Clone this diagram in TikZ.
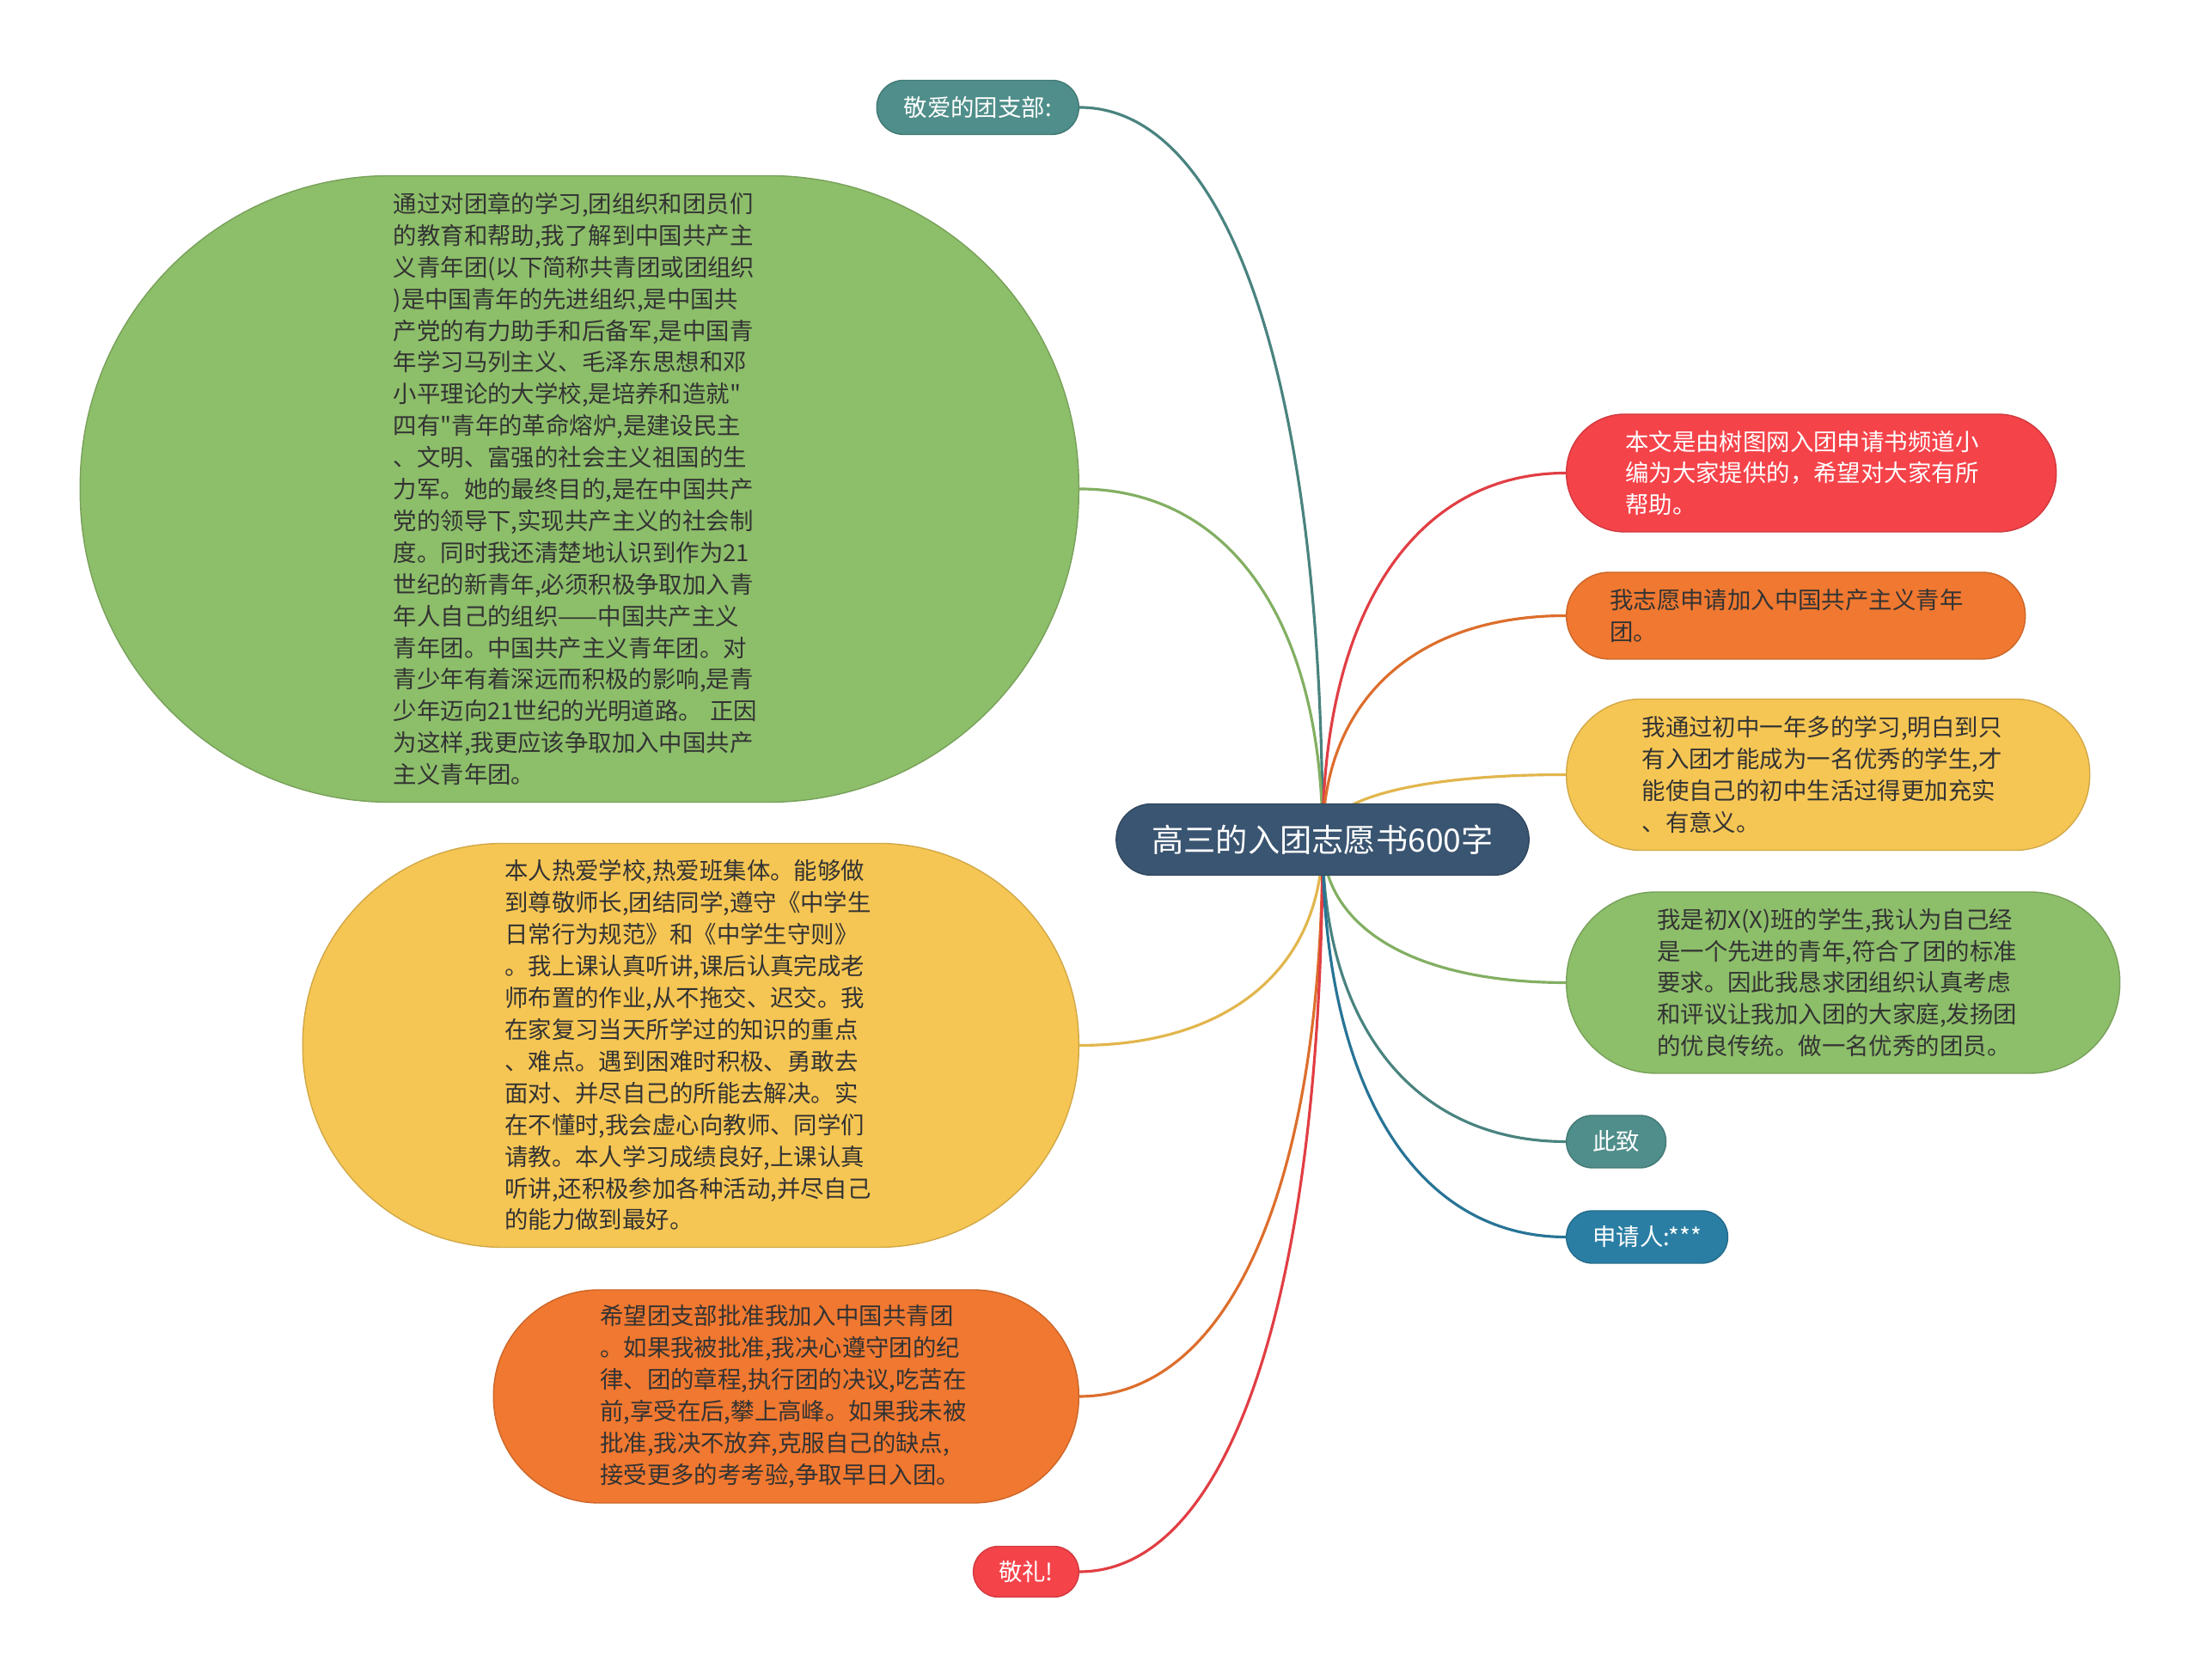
\documentclass[tikz,border=0pt]{standalone}
\usepackage{fontspec}
\setmainfont{Noto Sans CJK SC}[Ligatures=TeXOff]
\usetikzlibrary{calc,backgrounds}

\definecolor{navyc}{HTML}{3A5571}
\definecolor{tealc}{HTML}{4F8E8A}
\definecolor{greenc}{HTML}{8DBE6A}
\definecolor{yellowc}{HTML}{F6C654}
\definecolor{orangec}{HTML}{F07830}
\definecolor{redc}{HTML}{F5434A}
\definecolor{bluec}{HTML}{2A7EA3}
\definecolor{inkc}{HTML}{333333}

\tikzset{
  topic/.style 2 args={rectangle,rounded corners=0.495*#2cm,minimum height=#2cm,
    inner xsep=0.5*#2cm,inner ysep=1pt,fill=#1,draw=#1!85!black,line width=0.4pt,
    font=\fontsize{7.8pt}{10.5pt}\selectfont},
  longtopic/.style 2 args={topic={#1}{#2},text=inkc,text width=4.33cm,align=left},
  branch/.style={draw=#1!92!black,line width=0.9pt,
    to path={.. controls ($(\tikztostart)!0.62!(\tikztostart |- \tikztotarget)$)
      and ($(\tikztotarget)!0.62!(\tikztostart |- \tikztotarget)$) .. (\tikztotarget)}}
}

\begin{document}
\begin{tikzpicture}
  \useasboundingbox (0,0) rectangle (25.6,19.55);

  % central topic
  \node[topic={navyc}{0.83},text=white,
    font=\fontsize{10.6pt}{12pt}\selectfont] (c) at (15.39,9.78) {高三的入团志愿书600字};

  % left branches
  \node[topic={tealc}{0.63},text=white,anchor=east] (a1) at (12.56,18.30) {敬爱的团支部:};
  \node[longtopic={greenc}{7.29},anchor=east] (a2) at (12.56,13.86) {通过对团章的学习,团组织和团员们\\
的教育和帮助,我了解到中国共产主\\
义青年团(以下简称共青团或团组织\\
)是中国青年的先进组织,是中国共\\
产党的有力助手和后备军,是中国青\\
年学习马列主义、毛泽东思想和邓\\
小平理论的大学校,是培养和造就"\\
四有"青年的革命熔炉,是建设民主\\
、文明、富强的社会主义祖国的生\\
力军。她的最终目的,是在中国共产\\
党的领导下,实现共产主义的社会制\\
度。同时我还清楚地认识到作为21\\
世纪的新青年,必须积极争取加入青\\
年人自己的组织——中国共产主义\\
青年团。中国共产主义青年团。对\\
青少年有着深远而积极的影响,是青\\
少年迈向21世纪的光明道路。 正因\\
为这样,我更应该争取加入中国共产\\
主义青年团。};
  \node[longtopic={yellowc}{4.70},anchor=east] (a3) at (12.56,7.385) {本人热爱学校,热爱班集体。能够做\\
到尊敬师长,团结同学,遵守《中学生\\
日常行为规范》和《中学生守则》\\
。我上课认真听讲,课后认真完成老\\
师布置的作业,从不拖交、迟交。我\\
在家复习当天所学过的知识的重点\\
、难点。遇到困难时积极、勇敢去\\
面对、并尽自己的所能去解决。实\\
在不懂时,我会虚心向教师、同学们\\
请教。本人学习成绩良好,上课认真\\
听讲,还积极参加各种活动,并尽自己\\
的能力做到最好。};
  \node[longtopic={orangec}{2.48},anchor=east] (a4) at (12.56,3.30) {希望团支部批准我加入中国共青团\\
。如果我被批准,我决心遵守团的纪\\
律、团的章程,执行团的决议,吃苦在\\
前,享受在后,攀上高峰。如果我未被\\
批准,我决不放弃,克服自己的缺点,\\
接受更多的考考验,争取早日入团。};
  \node[topic={redc}{0.59},text=white,anchor=east] (a5) at (12.56,1.26) {敬礼!};

  % right branches
  \node[longtopic={redc}{1.37},text=white,anchor=west] (b1) at (18.22,14.045) {本文是由树图网入团申请书频道小\\
编为大家提供的，希望对大家有所\\
帮助。};
  \node[longtopic={orangec}{1.01},anchor=west] (b2) at (18.22,12.385) {我志愿申请加入中国共产主义青年\\
团。};
  \node[longtopic={yellowc}{1.76},anchor=west] (b3) at (18.22,10.535) {我通过初中一年多的学习,明白到只\\
有入团才能成为一名优秀的学生,才\\
能使自己的初中生活过得更加充实\\
、有意义。};
  \node[longtopic={greenc}{2.11},anchor=west] (b4) at (18.22,8.115) {我是初X(X)班的学生,我认为自己经\\
是一个先进的青年,符合了团的标准\\
要求。因此我恳求团组织认真考虑\\
和评议让我加入团的大家庭,发扬团\\
的优良传统。做一名优秀的团员。};
  \node[topic={tealc}{0.61},text=white,anchor=west] (b5) at (18.22,6.265) {此致};
  \node[topic={bluec}{0.61},text=white,anchor=west] (b6) at (18.22,5.155) {申请人:***};

  \begin{pgfonlayer}{background}
    \fill[white] (0,0) rectangle (25.6,19.55);
    \draw[branch=tealc] (c.center) to (a1.east);
    \draw[branch=greenc] (c.center) to (a2.east);
    \draw[branch=yellowc] (c.center) to (a3.east);
    \draw[branch=orangec] (c.center) to (a4.east);
    \draw[branch=redc] (c.center) to (a5.east);
    \draw[branch=redc] (c.center) to (b1.west);
    \draw[branch=orangec] (c.center) to (b2.west);
    \draw[branch=yellowc] (c.center) to (b3.west);
    \draw[branch=greenc] (c.center) to (b4.west);
    \draw[branch=tealc] (c.center) to (b5.west);
    \draw[branch=bluec] (c.center) to (b6.west);
  \end{pgfonlayer}
\end{tikzpicture}
\end{document}
